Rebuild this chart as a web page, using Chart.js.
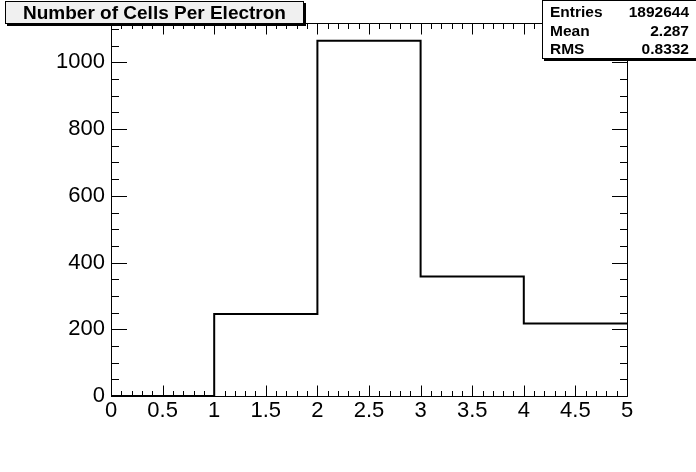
<!DOCTYPE html>
<html>
<head>
<meta charset="utf-8">
<script src="https://cdn.jsdelivr.net/npm/chart.js@4/dist/chart.umd.min.js"></script>
<style>
  html, body { margin: 0; padding: 0; background: #fff; }
  #wrap { position: relative; width: 696px; height: 472px; overflow: hidden; }
  canvas { position: absolute; left: 0; top: 0; }
  .pave { position: absolute; box-sizing: border-box; border: 1px solid #000; font-family: "Liberation Sans", Arial, sans-serif; font-weight: bold; color: #000; }
  #title { left: 5px; top: 1px; width: 299px; height: 23px; background: #f0f0f0; box-shadow: 2px 2px 0 #000; font-size: 19px; line-height: 21px; text-align: center; white-space: nowrap; }
  #stats { left: 542px; top: 0px; width: 155px; height: 59px; background: #fff; box-shadow: 2px 2px 0 #000; font-size: 15.5px; }
  #stats .row { position: absolute; left: 7px; right: 7px; height: 18px; line-height: 18px; }
  #stats .row span.v { position: absolute; right: 0; }
</style>
</head>
<body>
<div id="wrap">
  <canvas id="c" width="696" height="472"></canvas>
  <div id="title" class="pave">Number of Cells Per Electron</div>
  <div id="stats" class="pave">
    <div class="row" style="top:2px"><span>Entries</span><span class="v">1892644</span></div>
    <div class="row" style="top:21px"><span>Mean</span><span class="v">2.287</span></div>
    <div class="row" style="top:39px"><span>RMS</span><span class="v">0.8332</span></div>
  </div>
</div>
<script>
// ---- data ----
const binEdges = [0, 1, 2, 3, 4, 5];
const binCounts = [0, 246, 1065, 358, 217];
const xTickLabels = [0, 0.5, 1, 1.5, 2, 2.5, 3, 3.5, 4, 4.5, 5];
const yTickLabels = [0, 200, 400, 600, 800, 1000];
const xMinorStep = 0.1;
const yMinorStep = 50;
const yMax = 1118;

// build step outline from bins
const pts = [];
for (let i = 0; i < binCounts.length; i++) {
  pts.push({ x: binEdges[i], y: binCounts[i] });
  pts.push({ x: binEdges[i + 1], y: binCounts[i] });
}

const FONT = "'Liberation Sans', Arial, sans-serif";

const frameTicks = {
  id: 'frameTicks',
  afterDatasetsDraw(chart) {
    const { ctx, chartArea: a, scales: { x, y } } = chart;
    ctx.save();
    ctx.strokeStyle = '#000';
    ctx.lineWidth = 1;
    ctx.beginPath();
    const L = Math.round(a.left) + 0.5, R = Math.round(a.right) + 0.5;
    const T = Math.round(a.top) + 0.5, B = Math.round(a.bottom) + 0.5;
    ctx.rect(L, T, R - L, B - T);
    const xMajLen = 11, xMinLen = 5.5;
    const nx = Math.round((x.max - x.min) / xMinorStep);
    for (let i = 0; i <= nx; i++) {
      const v = x.min + i * xMinorStep;
      const px = Math.round(x.getPixelForValue(v)) + 0.5;
      const isMaj = xTickLabels.some(t => Math.abs(t - v) < 1e-6);
      const len = isMaj ? xMajLen : xMinLen;
      ctx.moveTo(px, B); ctx.lineTo(px, B - len);
      ctx.moveTo(px, T); ctx.lineTo(px, T + len);
    }
    const yMajLen = 15.5, yMinLen = 7.5;
    for (let v = 0; v <= y.max + 1e-6; v += yMinorStep) {
      const py = Math.round(y.getPixelForValue(v)) + 0.5;
      const isMaj = yTickLabels.includes(v);
      const len = isMaj ? yMajLen : yMinLen;
      ctx.moveTo(L, py); ctx.lineTo(L + len, py);
      ctx.moveTo(R, py); ctx.lineTo(R - len, py);
    }
    ctx.stroke();
    ctx.restore();
  }
};

new Chart(document.getElementById('c'), {
  type: 'line',
  data: {
    datasets: [{
      data: pts,
      borderColor: '#000',
      borderWidth: 2,
      pointRadius: 0,
      fill: false,
      tension: 0,
      clip: 4
    }]
  },
  options: {
    responsive: false,
    animation: false,
    events: [],
    layout: { padding: { top: 23, right: 69, left: 0, bottom: 0 } },
    plugins: { legend: { display: false }, tooltip: { enabled: false }, title: { display: false } },
    scales: {
      x: {
        type: 'linear', min: 0, max: 5,
        grid: { display: false, drawTicks: false },
        border: { display: false },
        afterBuildTicks: s => { s.ticks = xTickLabels.map(v => ({ value: v })); },
        afterFit: s => { s.height = 76; },
        ticks: { color: '#000', font: { family: FONT, size: 22 }, padding: 2, maxRotation: 0, autoSkip: false,
                 callback: v => String(v) }
      },
      y: {
        type: 'linear', min: 0, max: yMax,
        grid: { display: false, drawTicks: false },
        border: { display: false },
        afterBuildTicks: s => { s.ticks = yTickLabels.map(v => ({ value: v })); },
        afterFit: s => { s.width = 111; },
        ticks: { color: '#000', font: { family: FONT, size: 22 }, padding: 6, autoSkip: false,
                 callback: v => String(v) }
      }
    }
  },
  plugins: [frameTicks]
});
</script>
</body>
</html>
